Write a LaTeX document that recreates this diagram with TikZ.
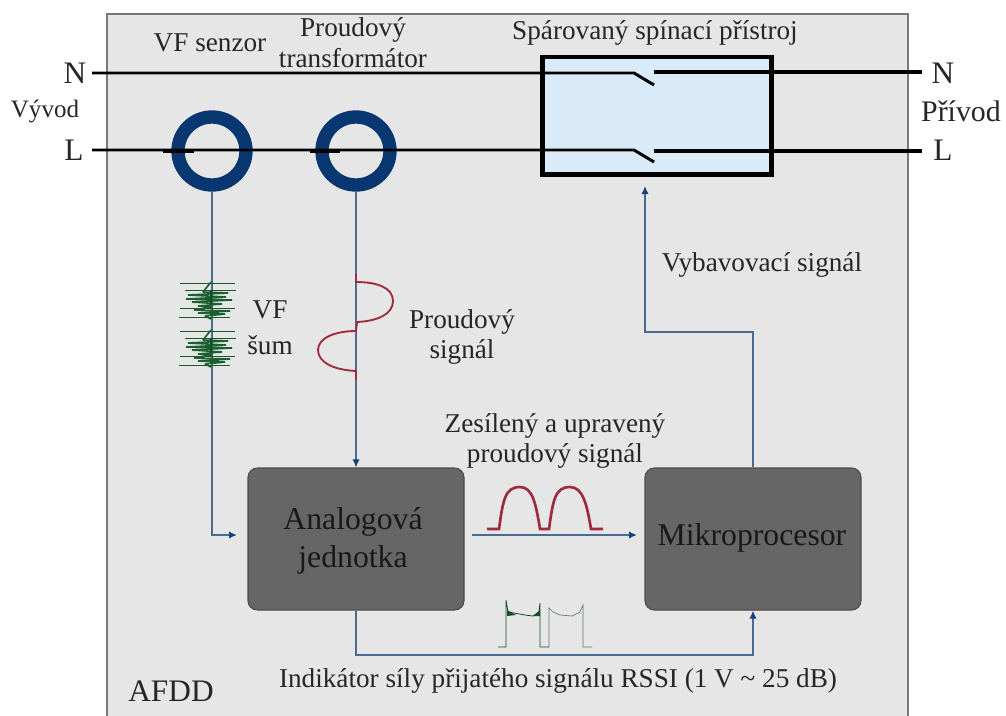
\documentclass[tikz,border=0pt]{standalone}
\usepackage{fontspec}
\setmainfont{Liberation Serif}
\usetikzlibrary{arrows.meta}
\definecolor{panelgray}{RGB}{230, 230, 230}
\definecolor{panelline}{RGB}{120, 120, 120}
\definecolor{ringblue}{RGB}{8, 54, 112}
\definecolor{wireblue}{RGB}{72, 108, 145}
\definecolor{tipblue}{RGB}{22, 66, 122}
\definecolor{relayblue}{RGB}{217, 235, 248}
\definecolor{blockgray}{RGB}{102, 102, 102}
\definecolor{wavered}{RGB}{160, 42, 62}
\definecolor{noisegreen}{RGB}{36, 128, 62}

\tikzset{
    label/.style={font=\fontsize{20.4}{23}\selectfont, text=black!85, align=center, inner sep=0pt},
    biglabel/.style={font=\fontsize{23.8}{28.5}\selectfont, text=black!90, align=center, inner sep=0pt},
    sidelabel/.style={font=\fontsize{23.5}{28}\selectfont, text=black!85, inner sep=0pt},
    block/.style={draw=black!70, fill=blockgray, rounded corners=7, line width=0.8pt, minimum width=162pt, minimum height=106.5pt},
    ring/.style={circle, draw=ringblue, line width=10pt, minimum size=51pt, inner sep=0pt},
    signal/.style={draw=wireblue, line width=1.9pt},
    tipped/.style={-{Latex[length=6pt,width=5.5pt,color=tipblue]}},
    mains/.style={black, line width=2.2pt},
    mainsthick/.style={black, line width=3pt}
}

\begin{document}
\begin{tikzpicture}[x=0.75pt, y=-0.75pt]
\useasboundingbox (0,0) rectangle (1006,715);
\fill[white] (0,0) rectangle (1006,715);

% AFDD housing
\fill[panelgray, draw=panelline, line width=0.8pt] (107,14) -- (908,14) -- (908,720) -- (107,720) -- cycle;

% Relay box
\node[draw=black, fill=relayblue, line width=3.5pt, minimum width=172pt, minimum height=88pt, inner sep=0pt] (relay) at (657,115.7) {};

% Sensors
\node[ring] (vfring) at (212,151) {};
\node[ring] (ctring) at (356,151) {};

% Blocks
\node[block] (analog) at (356,539) {};
\node[block] (micro) at (753,539) {};

% Mains wires
\coordinate (nleft) at (92,73);
\coordinate (nright) at (922,72);
\coordinate (lleft) at (92,150);
\coordinate (lright) at (922,151);
\foreach \a/\b/\y/\yr in {nleft/nright/73/72, lleft/lright/150/151} {
    \draw[mains] (\a) -- (634,\y) -- (654,\y+12);
    \draw[mainsthick] (654,\yr) -- (\b);
}
\draw[mainsthick] (163,151) -- (194,151);
\draw[mainsthick] (310,151) -- (340,151);

% Signal paths
\coordinate (tripbend) at (645,332);
\coordinate (analogbend) at (212,535);
\coordinate (analogin) at (237,535);
\coordinate (ampfrom) at (472,535);
\coordinate (ampto) at (637,535);
\coordinate (tripto) at (645,186);
\draw[signal, tipped] (vfring.south) -- (analogbend) -- (analogin);
\draw[signal, tipped] (ctring.south) -- (analog.north);
\draw[signal, tipped] (ampfrom) -- (ampto);
\draw[signal, tipped] (micro.north) -- (753,332) -- (tripbend) -- (tripto);
\draw[signal, tipped] (analog.south) -- (356,655) -- (753,655) -- (micro.south);

% HF noise bursts
\foreach \yb in {283, 331} {
    \begin{scope}[yshift=-\yb*0.75pt]
    \foreach \y/\l/\r in {0/180/235, 7/185/236, 25/180/235, 34/179/230} {
        \draw[noisegreen!70!black, line width=0.5pt] (\l,\y) -- (\r,\y);
    }
    \draw[noisegreen!75!black, line width=1.2pt, line join=bevel] (211,-1) -- (203,9) -- (228,10) -- (188,12) -- (226,14) -- (186,16)
        -- (232,17) -- (192,19) -- (222,21) -- (198,23) -- (212,24) -- (194,27) -- (230,28) -- (198,30) -- (225,31) -- (205,33) -- (211,36);
    \draw[noisegreen!60!black, line width=2pt] (211,8) -- (211,22);
    \end{scope}
}

% Current waveform
\draw[wavered, line width=1.4pt] (356,274) -- (356,282) .. controls (378,282) and (393,288) .. (393,301)
    .. controls (393,314) and (378,321) .. (357,322) -- (356,331)
    .. controls (335,331) and (318,338) .. (318,350)
    .. controls (318,363) and (335,370) .. (356,371) -- (356,380);

% Amplified waveform
\draw[wavered, line width=2pt] (487,529) -- (499,529) .. controls (503,500) and (505,487) .. (520,487)
    .. controls (533,487) and (536,505) .. (540,529) -- (549,529)
    .. controls (553,500) and (555,487) .. (570,487)
    .. controls (583,487) and (587,505) .. (591,529) -- (603,529);

% RSSI waveform
\draw[noisegreen!60!black, line width=0.6pt] (498,647) -- (506,647) -- (506,600) -- (508,612) -- (514,613) -- (525,615) -- (533,616) -- (539,612) -- (540,603) -- (540,647) -- (549,647);
\draw[noisegreen!45!gray, line width=0.5pt] (549,647) -- (549,608) -- (553,612) -- (560,615) -- (572,616) -- (580,612) -- (583,605) -- (583,647) -- (592,647);
\fill[noisegreen!60!black] (507,610) -- (516,615) -- (507,616) -- cycle;
\fill[noisegreen!60!black] (540,610) -- (540,616) -- (533,616) -- cycle;

% Labels
\node[sidelabel] (nl) at (75,73) {N};
\node[sidelabel] (ll) at (74,150) {L};
\node[sidelabel] (nr) at (943,73) {N};
\node[sidelabel] (lr) at (943,150) {L};
\node[label, font=\fontsize{18.8}{24}\selectfont] (vyvod) at (45,111) {Vývod};
\node[label, font=\fontsize{22.4}{24}\selectfont] (privod) at (961,111) {Přívod};
\node[label] (vfsenzor) at (210,43) {VF senzor};
\node[label] (cttext) at (353,43) {Proudový\\transformátor};
\node[label] (relaytext) at (655,33) {Spárovaný spínací přístroj};
\node[label] (triptext) at (762,265) {Vybavovací signál};
\node[label] (vfsum) at (270,328) {VF\\[4pt]šum};
\node[label] (cursig) at (462,337) {Proudový\\signál};
\node[label] (amptext) at (555,441) {Zesílený a upravený\\proudový signál};
\node[biglabel] (analogtext) at (353,541) {Analogová\\jednotka};
\node[biglabel] (microtext) at (752,538) {Mikroprocesor};
\node[label] (rssi) at (558,681) {Indikátor síly přijatého signálu RSSI (1 V \textasciitilde{} 25 dB)};
\node[label, font=\fontsize{23.5}{26}\selectfont] (afdd) at (171,691) {AFDD};
\end{tikzpicture}
\end{document}
